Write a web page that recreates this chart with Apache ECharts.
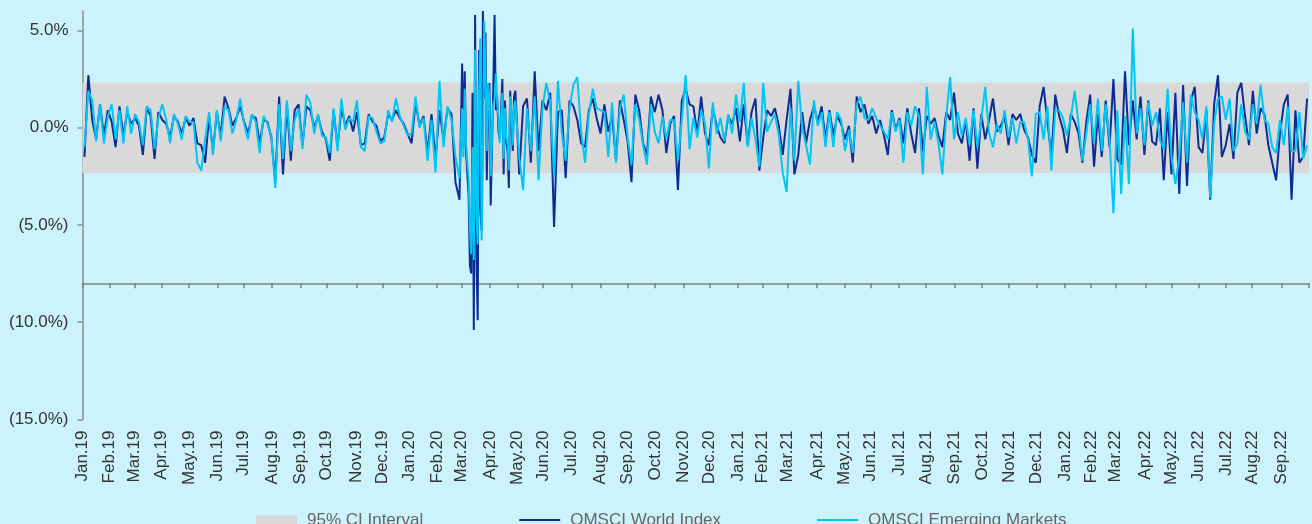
<!DOCTYPE html>
<html><head><meta charset="utf-8">
<script src="https://cdn.jsdelivr.net/npm/echarts@6/dist/echarts.min.js"></script>
<style>html,body{margin:0;padding:0;background:#ccf2fb;}#c{width:1312px;height:524px;}</style>
</head><body><div id="c"></div>
<script>
const monthLabels = ['Jan.19','Feb.19','Mar.19','Apr.19','May.19','Jun.19','Jul.19','Aug.19','Sep.19','Oct.19','Nov.19','Dec.19',
 'Jan.20','Feb.20','Mar.20','Apr.20','May.20','Jun.20','Jul.20','Aug.20','Sep.20','Oct.20','Nov.20','Dec.20',
 'Jan.21','Feb.21','Mar.21','Apr.21','May.21','Jun.21','Jul.21','Aug.21','Sep.21','Oct.21','Nov.21','Dec.21',
 'Jan.22','Feb.22','Mar.22','Apr.22','May.22','Jun.22','Jul.22','Aug.22','Sep.22'];
const tradingDays = [21,19,21,21,22,20,22,22,20,23,20,21,
 21,19,22,21,20,22,22,21,21,22,20,22,
 19,19,23,21,20,22,21,22,21,21,21,22,
 20,19,23,20,21,21,20,23,21];
const yTicks = [-15,-10,-5,0,5];
const ciLow = -2.33, ciHigh = 2.33;

// 2019 (Jan-Dec)
const world2019 = [-1.5,2.7,0.4,-0.6,1.2,-0.4,0.9, 0.3,-1.0,1.1,-0.4,0.8,0.2,0.5, 0.1,-1.4,1.0,0.6,-1.6,0.8,0.4,
 0.2,-0.5,0.6,0.3,-0.3,0.5,0.1, 0.5,-0.8,-0.9,-1.8,0.6,-1.2,0.8, -0.4,1.6,1.0,0.1,0.5,1.1,0.3,
 -0.3,0.6,0.5,-0.8,0.4,0.3,-0.5, -2.8,1.6,-2.4,1.2,-1.7,0.9,1.2, -0.9,1.1,0.9,0.0,0.6,-0.2,-0.6,
 -1.7,0.9,-1.0,1.0,0.1,0.6,-0.2, 0.8,-0.9,-0.8,0.7,0.3,0.1,-0.7, -0.5,0.7,0.4,0.9,0.5,0.2,-0.3];
const em2019 = [-1.0,1.9,1.4,-0.7,1.2,-0.8,0.6, 1.2,-0.6,0.9,-0.8,1.1,-0.3,0.7, 0.3,-0.9,1.1,0.9,-1.1,0.5,1.2,
 0.4,-0.8,0.7,0.2,-0.6,0.6,0.3, 0.3,-1.8,-2.2,-0.6,0.8,-1.4,0.9, -0.7,1.1,0.9,-0.3,0.4,1.5,0.2,
 -0.6,0.7,0.3,-1.3,0.6,0.2,-0.4, -3.1,1.2,-1.6,1.4,-1.2,0.4,1.0, -1.1,1.7,1.3,-0.3,0.7,-0.4,-0.5,
 -1.3,1.0,-1.2,1.5,-0.1,0.5,0.3, 1.4,-1.0,-1.2,0.6,0.5,-0.2,-0.8, -0.7,0.9,0.3,1.5,0.6,0.1,-0.4];
// Jan-Feb 2020
const world2020a = [-0.8,1.3,0.1,0.6,-1.3,0.7,-1.6,0.9,-0.6,1.0,0.7,-2.8,-3.7];
const em2020a = [-0.3,1.6,0.0,0.5,-1.7,0.4,-2.3,2.4,-1.0,1.1,0.4,-1.5,-2.6];
// Mar-Apr 2020 (daily)
const world2020crash = [3.3,-1.0,2.9,-1.2,-2.4,-3.5,-7.1,-7.5,1.8,-10.4,5.8,-6.8,-9.9,4.0,-4.1,-5.3,6.0,1.5,4.9,-2.7,1.0,2.3,
 -4.0,-1.0,2.0,5.8,0.9,1.6,-0.2,-0.6,0.9,2.5,-2.4,1.4,-0.7,-1.2,-3.1,1.9,0.3,-1.2,1.6,1.9,0.6];
const em2020crash = [1.0,-1.5,2.0,-0.8,-1.8,-2.6,-5.2,-6.5,-1.0,-6.8,4.0,-4.5,-6.0,1.5,4.6,-5.8,-2.0,5.5,3.0,-1.2,2.3,1.5,
 -2.5,-0.6,1.2,1.5,2.8,1.3,0.4,-0.8,0.5,1.8,-1.6,1.0,-0.5,-0.8,-2.2,1.6,0.8,-0.9,1.1,1.4,0.3];
// May-Dec 2020
const world2020b = [-2.4,1.1,1.5,-1.8,2.9,-1.2,1.4,0.9,1.8,-5.1,0.8,0.9,-2.6,1.4,1.1,0.4,-0.8,-1.0,0.9,1.5,0.5,
 -0.3,1.2,-0.2,0.6,-1.7,1.4,0.4,-0.7,-2.8,1.7,0.9,-0.8,-1.4,1.6,0.8,1.7,0.9,-1.3,0.2,0.6,-3.2,1.4,
 2.0,1.2,1.1,-0.3,1.6,-0.3,-0.9,1.0,0.1,-0.5,-0.8,0.6,0.2,1.0];
const em2020b = [-1.5,-3.2,1.0,-1.2,1.6,-2.7,1.0,2.3,1.3,-2.5,2.4,-0.3,-1.7,1.0,2.2,2.6,-0.2,-1.8,0.7,2.0,1.0,
 0.9,0.8,-1.5,1.3,-1.8,1.0,1.7,-0.5,-1.9,1.2,0.4,-0.9,-1.9,1.2,-0.2,-0.8,0.6,-0.6,0.4,0.4,-1.7,0.4,
 2.7,-1.1,0.5,-0.5,0.9,0.2,-2.1,1.3,-0.3,0.5,-0.7,0.7,-0.3,1.7];
// 2021
const world2021 = [-0.7,1.2,-0.9,0.8,1.5,-2.2,-0.5, 0.9,0.6,1.0,0.1,-1.4,0.4,2.0, -2.4,-1.4,0.8,-0.8,0.4,1.1,0.3,
 1.1,-0.6,0.9,-0.4,0.6,0.2,-0.6, 0.1,-1.8,1.6,0.8,1.2,0.2,0.6, -0.3,0.4,-0.4,-1.4,0.9,-0.1,0.5,
 -0.8,1.0,-0.3,-1.3,1.0,-1.2,0.6, 0.2,0.5,-0.4,-1.0,0.8,0.4,1.8, -0.3,-0.8,0.4,-1.7,1.0,-2.1,0.7,
 -0.6,0.4,1.5,-0.2,0.1,0.6,-0.9, 0.7,0.4,0.7,-0.1,-0.5,-1.4,-1.8, 1.1,2.1,0.3,-1.5,1.7,0.6,-0.1];
const em2021 = [0.3,2.3,-1.0,0.5,-0.6,-2.0,2.3, -0.2,0.3,0.7,-0.4,-2.3,-3.3,1.0, -1.7,2.4,0.0,-0.9,-1.9,1.4,0.1,
 0.8,-1.0,0.8,-1.0,0.8,0.4,-1.2, -0.1,-1.3,1.2,1.6,0.5,0.4,1.0, 0.5,0.1,-0.2,-0.6,0.8,-0.2,0.4,
 -1.8,0.8,0.1,1.1,0.6,-2.4,2.1, -0.6,0.3,-0.8,-2.4,0.6,2.6,-0.6, 0.8,-0.4,0.5,-0.9,0.9,-1.0,0.4,
 2.1,-0.3,-1.0,0.2,-0.3,0.9,-0.5, 0.5,-0.8,0.3,0.3,-0.6,-2.5,0.7, 0.8,-0.6,1.1,-2.2,0.9,0.9,0.5];
// Jan-Sep 2022
const world2022 = [-1.3,0.7,0.3,-0.3,-1.8,0.3,1.7, -2.0,0.7,-1.5,1.4,-1.0,2.5,-1.6, -1.9,2.9,-0.9,1.4,-0.6,1.6,-1.4,
 1.4,-0.7,-0.9,1.0,-2.7,0.8,-2.4, 1.8,-3.4,2.2,-3.0,1.4,2.1,-1.0, -1.3,0.9,-3.7,1.2,2.7,-1.5,-0.9,
 0.2,-1.6,1.8,2.3,0.6,-0.9,1.9, -0.3,1.0,0.7,-0.9,-1.8,-2.7,-0.3, 1.2,1.7,-3.7,0.9,-1.8,-1.5,1.5];
const em2022 = [-0.4,0.5,1.9,0.2,-1.7,-0.3,1.2, -0.8,1.5,-1.2,1.2,-0.6,-4.4,0.9, -3.4,0.6,-2.9,5.1,-0.3,1.0,-0.9,
 1.3,0.1,0.8,-0.6,-1.1,2.0,-1.5, -2.9,-1.5,1.3,-1.8,1.7,0.8,0.4, -0.6,1.1,-3.6,0.2,1.5,1.6,0.4,
 1.5,-1.2,-0.8,1.2,-0.2,-0.6,1.2, 0.2,2.2,0.4,0.2,-1.0,-1.3,0.4, -0.9,1.1,-1.2,-1.2,0.8,-1.6,-0.9];

// month-start positions (trading-day index)
const monthStart = [0];
tradingDays.forEach(function (d, i) { monthStart.push(monthStart[i] + d); });
const totalDays = monthStart[monthStart.length - 1];

const segments = [
  [0, 12, world2019, em2019],
  [12, 14, world2020a, em2020a],
  [14, 16, world2020crash, em2020crash],
  [16, 24, world2020b, em2020b],
  [24, 36, world2021, em2021],
  [36, 45, world2022, em2022]
];
const worldData = [], emData = [];
segments.forEach(function (s) {
  const d0 = monthStart[s[0]], d1 = monthStart[s[1]];
  const step = (d1 - d0) / s[2].length;
  s[2].forEach(function (v, i) { worldData.push([d0 + (i + 0.5) * step, v]); });
  s[3].forEach(function (v, i) { emData.push([d0 + (i + 0.5) * step, v]); });
});

const labelValues = monthStart.slice(0, monthLabels.length);
const FONT = 'Liberation Sans, Arial, Helvetica, sans-serif';
const WORLD = '#0a2d94', EM = '#00c6f5', CI = '#d9d9d9';
const chart = echarts.init(document.getElementById('c'));
const plotH = 524 - 11 - 104.5;
chart.setOption({
  animation: false,
  backgroundColor: '#ccf2fb',
  grid: { left: 82.5, right: 3, top: 11, bottom: 104.5, containLabel: false },
  legend: {
    left: 256, top: 511.5, padding: 0, itemGap: 95, itemWidth: 41, itemHeight: 9,
    textStyle: { fontFamily: FONT, fontSize: 17, color: '#666', padding: [0, 0, 0, 5] },
    data: [
      { name: '95% CI Interval', icon: 'rect', itemStyle: { color: CI } },
      { name: 'OMSCI World Index', itemStyle: { opacity: 0 }, lineStyle: { color: WORLD, width: 2 } },
      { name: 'OMSCI Emerging Markets', itemStyle: { opacity: 0 }, lineStyle: { color: EM, width: 2 } }
    ]
  },
  xAxis: [
    {
      type: 'value', min: 0, max: totalDays, position: 'bottom',
      axisLine: { show: false }, axisTick: { show: false }, splitLine: { show: false },
      axisLabel: {
        customValues: labelValues, rotate: 90, margin: 11,
        fontFamily: FONT, fontSize: 17, color: '#333',
        formatter: function (v) { const i = labelValues.indexOf(v); return i >= 0 ? monthLabels[i] : ''; }
      }
    },
    {
      type: 'value', min: 0, max: totalDays, position: 'bottom',
      offset: -(plotH * 7 / 21),
      axisLine: { show: true, lineStyle: { color: '#808080', width: 1.5 } },
      axisTick: { show: true, customValues: monthStart, length: 5, lineStyle: { color: '#808080', width: 1.5 } },
      axisLabel: { show: false }, splitLine: { show: false }
    }
  ],
  yAxis: {
    type: 'value', min: -15, max: 6, interval: 5,
    axisLine: { show: true, lineStyle: { color: '#8c8c8c', width: 1.5 } },
    axisTick: { show: true, customValues: yTicks, length: 5, lineStyle: { color: '#8c8c8c', width: 1.5 } },
    splitLine: { show: false },
    axisLabel: {
      customValues: yTicks, margin: 14, fontFamily: FONT, fontSize: 17, color: '#333',
      formatter: function (v) {
        if (yTicks.indexOf(v) < 0) return '';
        return v < 0 ? '(' + Math.abs(v).toFixed(1) + '%)' : v.toFixed(1) + '%';
      }
    }
  },
  series: [
    {
      name: '95% CI Interval', type: 'custom', silent: true, z: 1,
      itemStyle: { color: CI },
      data: [[0, totalDays, ciLow, ciHigh]],
      encode: { x: [0, 1], y: [2, 3] },
      renderItem: function (params, api) {
        const p1 = api.coord([api.value(0), api.value(3)]);
        const p2 = api.coord([api.value(1), api.value(2)]);
        return { type: 'rect', shape: { x: p1[0], y: p1[1], width: p2[0] - p1[0], height: p2[1] - p1[1] }, style: { fill: CI } };
      }
    },
    {
      name: 'OMSCI World Index', type: 'line', symbol: 'none', z: 2,
      itemStyle: { color: WORLD }, lineStyle: { color: WORLD, width: 2 },
      data: worldData
    },
    {
      name: 'OMSCI Emerging Markets', type: 'line', symbol: 'none', z: 3,
      itemStyle: { color: EM }, lineStyle: { color: EM, width: 2 },
      data: emData
    }
  ]
});
</script></body></html>
